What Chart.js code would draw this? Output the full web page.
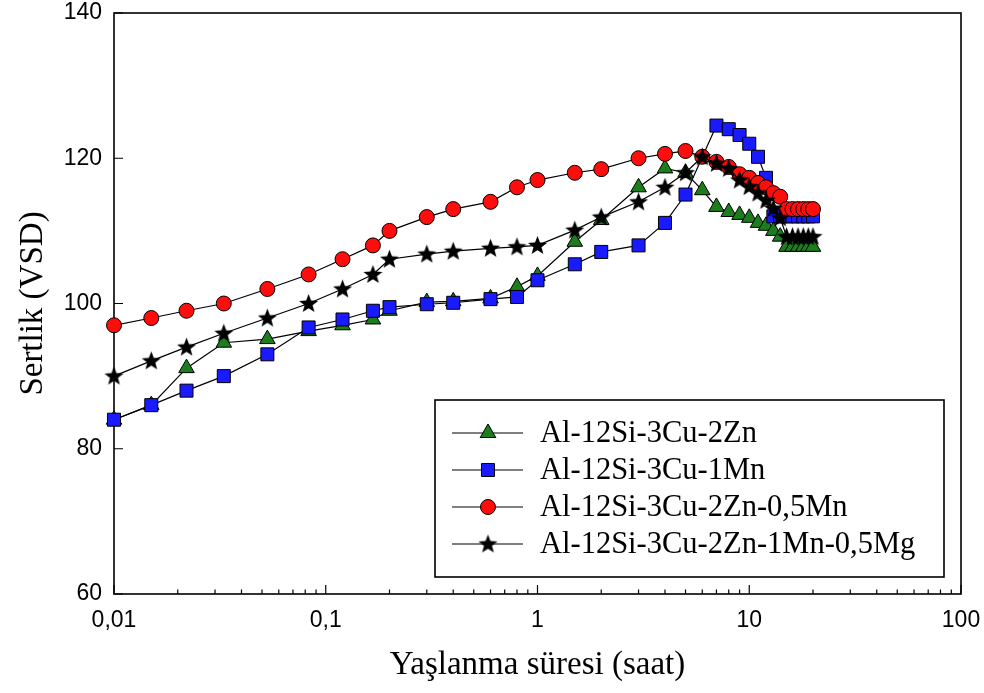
<!DOCTYPE html>
<html>
<head>
<meta charset="utf-8">
<script src="https://cdn.jsdelivr.net/npm/chart.js@4.4.0/dist/chart.umd.min.js"></script>
<style>
  body { margin: 0; background: #fff; }
  #wrap { width: 984px; height: 693px; }
</style>
</head>
<body>
<div id="wrap"><canvas id="myChart"></canvas></div>
<script>
'use strict';

// aging time (hours)
const times = [0.01, 0.015, 0.022, 0.033, 0.053, 0.083, 0.12, 0.167, 0.2, 0.3, 0.4, 0.6, 0.8, 1, 1.5, 2, 3, 4, 5,
  6, 7, 8, 9, 10, 11, 12, 13, 14, 15, 16, 17, 18, 19, 20];

const seriesNames = ['Al-12Si-3Cu-2Zn', 'Al-12Si-3Cu-1Mn', 'Al-12Si-3Cu-2Zn-0,5Mn', 'Al-12Si-3Cu-2Zn-1Mn-0,5Mg'];

const znHardness = [84, 86, 91.1, 94.6, 95.1, 96.2, 97, 97.8, 99, 100.2, 100.3, 100.7, 102.3, 103.8, 108.5, 111.5, 116, 118.6, 118,
  115.6, 113.3, 112.6, 112.2, 111.8, 111.1, 110.7, 110, 109.2, 107.8, 107.8, 107.8, 107.8, 107.8, 107.8];
const mnHardness = [84, 86, 88, 90, 93, 96.7, 97.8, 99, 99.5, 99.9, 100.1, 100.6, 100.9, 103.2, 105.4, 107.1, 108, 111.1, 115,
  null, 124.5, 124, 123.2, 122, 120.2, 117.3, 112, 112, 112, 112, 112, 112, 112, 112];
const znMnHardness = [97, 98, 99, 100, 102, 104, 106.1, 108, 110, 111.9, 113, 114, 116, 117, 118, 118.5, 120, 120.6, 121,
  120.2, 119.5, 118.8, 117.8, 117.3, 116.6, 116, 115.2, 114.7, 113, 113, 113, 113, 113, 113];
const znMnMgHardness = [90, 92.1, 94, 95.9, 98, 100, 102, 104, 106.1, 106.8, 107.2, 107.6, 107.8, 108, 110.1, 111.9, 114, 116, 118,
  120.2, 119.3, 118.6, 117, 116.1, 115.2, 114.2, 113.1, 111.8, 109.2, 109.2, 109.2, 109.2, 109.2, 109.2];

const xMajorTicks = [0.01, 0.1, 1, 10, 100];
const yTicks = [60, 80, 100, 120, 140];

function makeStar(size) {
  let c = document.createElement('canvas');
  c.width = size;
  c.height = size;
  let g = c.getContext('2d');
  let cx = size / 2, cy = size / 2 + 0.5;
  let outer = size / 2 - 0.5, inner = outer * 0.42;
  g.beginPath();
  for (let i = 0; i < 10; i++) {
    let r = i % 2 === 0 ? outer : inner;
    let ang = -Math.PI / 2 + i * Math.PI / 5;
    g.lineTo(cx + r * Math.cos(ang), cy + r * Math.sin(ang));
  }
  g.closePath();
  g.fillStyle = '#000';
  g.fill();
  return c;
}

const starImg = makeStar(21);

function toPoints(vals) {
  return times.map((t, i) => ({ x: t, y: vals[i] }));
}

function series(i, vals, style, fill, radius, order) {
  return {
    label: seriesNames[i],
    data: toPoints(vals),
    borderColor: '#000',
    borderWidth: 1.2,
    pointStyle: style,
    pointRadius: radius,
    pointHoverRadius: radius,
    pointBackgroundColor: fill,
    pointBorderColor: '#000',
    pointBorderWidth: 1,
    spanGaps: true,
    clip: false,
    order: order
  };
}

// frame + inward tick marks
const axisMarks = {
  id: 'axisMarks',
  beforeDatasetsDraw(chart) {
    const { ctx, chartArea: a, scales } = chart;
    ctx.save();
    ctx.strokeStyle = '#000';
    ctx.lineWidth = 1.2;
    ctx.beginPath();
    yTicks.forEach(v => {
      let py = scales.y.getPixelForValue(v);
      ctx.moveTo(a.left, py);
      ctx.lineTo(a.left + 9, py);
    });
    for (let d = 0.01; d < 100; d *= 10) {
      for (let k = 1; k <= 10; k++) {
        let px = scales.x.getPixelForValue(d * k);
        let len = (k === 1 || k === 10) ? 9 : 4.5;
        ctx.moveTo(px, a.bottom);
        ctx.lineTo(px, a.bottom - len);
      }
    }
    ctx.stroke();
    ctx.lineWidth = 1.6;
    ctx.strokeRect(a.left, a.top, a.right - a.left, a.bottom - a.top);
    ctx.restore();
  }
};

// boxed legend with line + marker samples
const boxLegend = {
  id: 'boxLegend',
  afterDraw(chart) {
    const ctx = chart.ctx;
    const rows = [433, 470, 507, 544];
    ctx.save();
    ctx.fillStyle = '#fff';
    ctx.fillRect(435, 400, 509, 177);
    ctx.strokeStyle = '#000';
    ctx.lineWidth = 1.6;
    ctx.strokeRect(435, 400, 509, 177);
    chart.data.datasets.forEach((ds, i) => {
      let y = rows[i];
      ctx.strokeStyle = '#000';
      ctx.lineWidth = 1.2;
      ctx.beginPath();
      ctx.moveTo(452, y);
      ctx.lineTo(523, y);
      ctx.stroke();
      ctx.fillStyle = ds.pointBackgroundColor;
      ctx.lineWidth = 1;
      Chart.helpers.drawPoint(ctx, { pointStyle: ds.pointStyle, radius: ds.pointRadius, rotation: 0, borderWidth: 1 }, 488, y);
      ctx.fillStyle = '#000';
      ctx.font = '30.5px "Liberation Serif"';
      ctx.textBaseline = 'middle';
      ctx.fillText(ds.label, 540, y + 1);
    });
    ctx.restore();
  }
};

const ctx = document.getElementById('myChart').getContext('2d');

let config = {
  type: 'line',
  data: {
    datasets: [
      series(0, znHardness, 'triangle', '#1c7d1c', 9, 4),
      series(1, mnHardness, 'rect', '#1a1aff', 9.2, 3),
      series(2, znMnHardness, 'circle', '#ff0d0d', 7.5, 2),
      series(3, znMnMgHardness, starImg, '#000', 10, 1)
    ]
  },
  options: {
    responsive: true,
    maintainAspectRatio: false,
    animation: false,
    layout: { padding: { top: 13, right: 23, left: 0, bottom: 0 } },
    plugins: {
      legend: { display: false },
      tooltip: { enabled: false }
    },
    scales: {
      x: {
        type: 'logarithmic',
        min: 0.01,
        max: 100,
        afterBuildTicks: scale => { scale.ticks = xMajorTicks.map(v => ({ value: v })); },
        afterFit: scale => {
          scale.height = 99;
          scale.paddingLeft = 0;
          scale.paddingRight = 0;
        },
        grid: { display: false, drawTicks: false },
        border: { display: false },
        ticks: {
          autoSkip: false,
          maxRotation: 0,
          padding: 13,
          color: '#000',
          font: { family: 'Liberation Sans', size: 23 },
          callback: v => String(v).replace('.', ',')
        },
        title: {
          display: true,
          text: 'Yaşlanma süresi (saat)',
          color: '#000',
          font: { family: 'Liberation Serif', size: 33 },
          padding: { top: 0, bottom: 8 }
        }
      },
      y: {
        min: 60,
        max: 140,
        afterBuildTicks: scale => { scale.ticks = yTicks.map(v => ({ value: v })); },
        afterFit: scale => {
          scale.width = 114;
          scale.paddingTop = 0;
          scale.paddingBottom = 0;
        },
        grid: { display: false, drawTicks: false },
        border: { display: false },
        ticks: {
          padding: 12,
          color: '#000',
          font: { family: 'Liberation Sans', size: 23 }
        },
        title: {
          display: true,
          text: 'Sertlik (VSD)',
          color: '#000',
          font: { family: 'Liberation Serif', size: 33 },
          padding: { top: 14, bottom: 0 }
        }
      }
    }
  },
  plugins: [axisMarks, boxLegend]
};

const myChart = new Chart(ctx, config);
</script>
</body>
</html>
